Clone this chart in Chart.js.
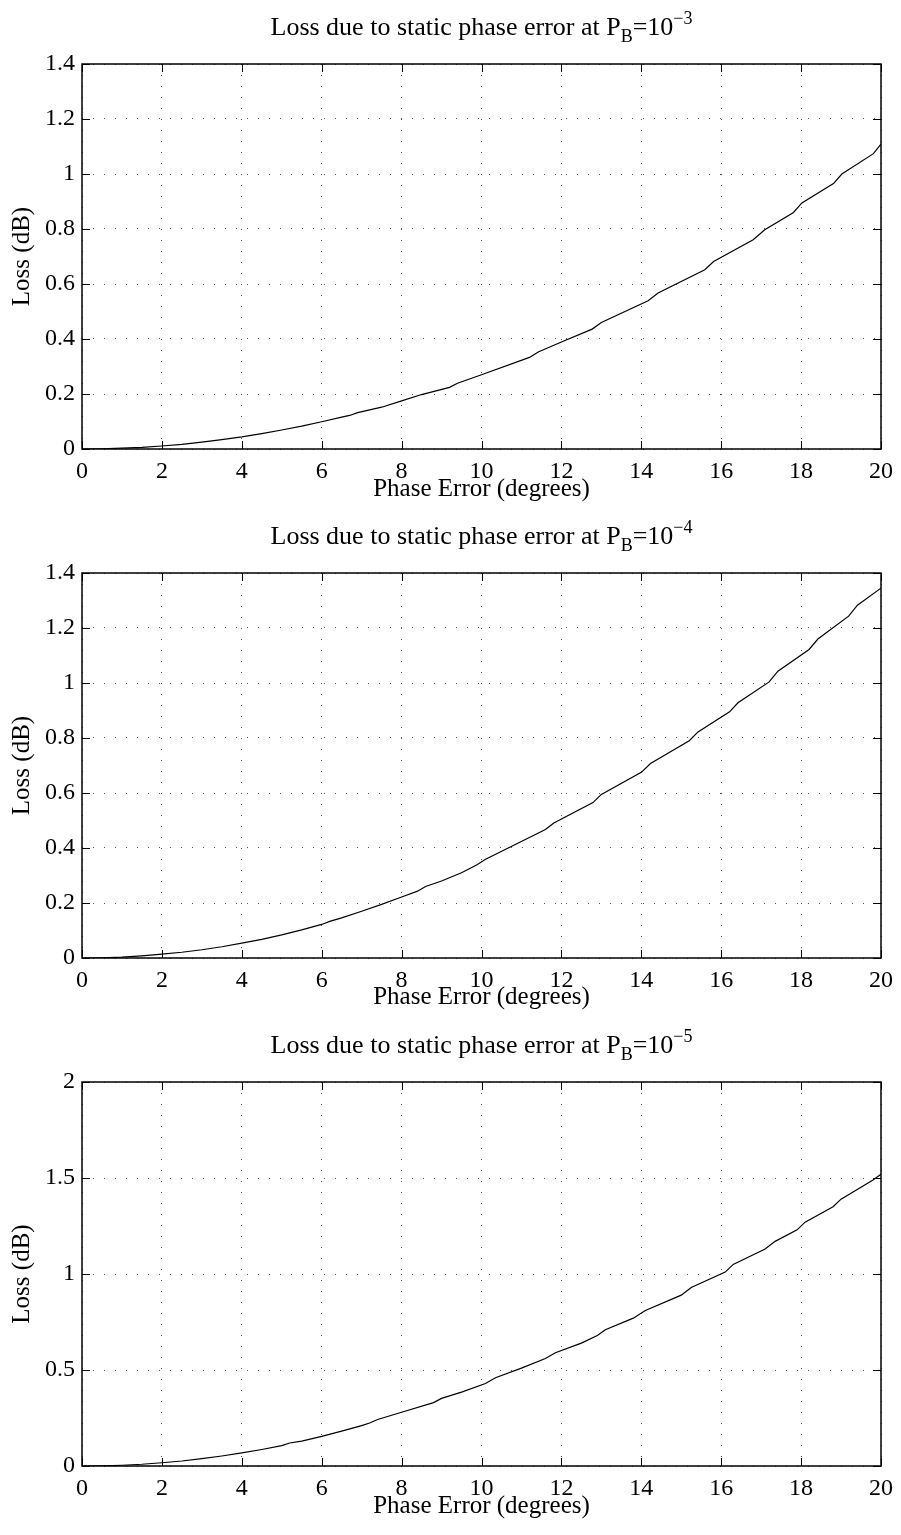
<!DOCTYPE html>
<html><head><meta charset="utf-8">
<script src="https://cdn.jsdelivr.net/npm/chart.js@4.4.1/dist/chart.umd.min.js"></script>
<style>
html,body{margin:0;padding:0;background:#fff;}
body{width:901px;height:1535px;position:relative;overflow:hidden;}
canvas{position:absolute;left:0;}
</style></head><body>
<canvas id="c1"></canvas><canvas id="c2"></canvas><canvas id="c3"></canvas>
<script>
// ---- data ----
const phase1 = [0,0.5,1,1.5,2,2.5,3,3.5,4,4.5,5,5.5,6,6.5,6.7,6.9,7.5,8,8.5,9.2,9.4,10,11.2,11.42,12,12.77,13.0,14.17,14.42,15.59,15.81,16.8,17.09,17.81,18.02,18.81,19.02,19.81,20];
const loss1  = [0,0.001,0.003,0.006,0.011,0.017,0.025,0.034,0.044,0.056,0.069,0.083,0.099,0.116,0.122,0.132,0.152,0.175,0.198,0.224,0.239,0.270,0.333,0.353,0.389,0.436,0.460,0.539,0.567,0.652,0.682,0.761,0.797,0.860,0.895,0.965,1.000,1.074,1.109];

const phase2 = [0,0.5,1,1.5,2,2.5,3,3.5,4,4.5,5,5.5,6,6.2,6.5,7,7.5,8,8.4,8.6,9,9.5,9.9,10.09,11.6,11.81,12.79,13.0,14.0,14.23,15.2,15.42,16.21,16.42,17.2,17.42,18.2,18.42,19.19,19.41,20];
const loss2  = [0,0.001,0.003,0.008,0.014,0.021,0.030,0.041,0.054,0.068,0.084,0.102,0.122,0.133,0.146,0.170,0.195,0.222,0.243,0.260,0.280,0.310,0.340,0.358,0.467,0.491,0.565,0.595,0.675,0.707,0.790,0.822,0.895,0.928,1.004,1.043,1.122,1.160,1.243,1.283,1.345];

const phase3 = [0,0.5,1,1.5,2,2.5,3,3.5,4,4.5,5,5.2,5.5,6,6.5,7,7.2,7.4,8,8.8,9.0,9.5,10.1,10.35,11,11.6,11.85,12.5,12.9,13.1,13.8,14.1,15,15.25,16.1,16.3,17.1,17.35,17.9,18.1,18.8,19.0,19.8,20];
const loss3  = [0,0.001,0.004,0.009,0.017,0.026,0.038,0.052,0.068,0.086,0.106,0.120,0.130,0.154,0.182,0.210,0.224,0.242,0.280,0.330,0.352,0.385,0.430,0.460,0.510,0.560,0.590,0.640,0.680,0.710,0.770,0.810,0.890,0.930,1.010,1.050,1.130,1.170,1.230,1.270,1.350,1.390,1.490,1.520];

const xTicks  = [0,2,4,6,8,10,12,14,16,18,20];
const yTicks1 = [0,0.2,0.4,0.6,0.8,1,1.2,1.4];
const yTicks2 = [0,0.2,0.4,0.6,0.8,1,1.2,1.4];
const yTicks3 = [0,0.5,1,1.5,2];
const exps = ['\u22123','\u22124','\u22125'];

const FONT = '"Liberation Serif","Times New Roman",Times,serif';

const framePlugin = {
  id: 'frame',
  afterDraw(chart, args, opts) {
    const {ctx, chartArea: a, scales: {x, y}} = chart;
    ctx.save();
    ctx.strokeStyle = '#000';
    ctx.lineWidth = 1;
    ctx.beginPath();
    x.ticks.forEach(t => {
      const p = Math.round(x.getPixelForValue(t.value)) + 0.5;
      ctx.moveTo(p, a.bottom); ctx.lineTo(p, a.bottom - 8);
      ctx.moveTo(p, a.top); ctx.lineTo(p, a.top + 8);
    });
    y.ticks.forEach(t => {
      const p = Math.round(y.getPixelForValue(t.value)) + 0.5;
      ctx.moveTo(a.left, p); ctx.lineTo(a.left + 8, p);
      ctx.moveTo(a.right, p); ctx.lineTo(a.right - 8, p);
    });
    ctx.stroke();
    ctx.lineWidth = 1.5;
    ctx.strokeRect(a.left, a.top, a.right - a.left, a.bottom - a.top);

    // title with subscript / superscript
    const main = 'Loss due to static phase error at P';
    const sub = 'B', eq = '=10', sup = opts.exp;
    const big = '26px ' + FONT, small = '18px ' + FONT;
    ctx.fillStyle = '#000';
    ctx.textBaseline = 'alphabetic';
    ctx.textAlign = 'left';
    ctx.font = big; const w1 = ctx.measureText(main).width, w3 = ctx.measureText(eq).width;
    ctx.font = small; const w2 = ctx.measureText(sub).width, w4 = ctx.measureText(sup).width;
    const total = w1 + w2 + w3 + w4;
    let xs = (a.left + a.right) / 2 - total / 2;
    const base = a.top - 29;
    ctx.font = big; ctx.fillText(main, xs, base); xs += w1;
    ctx.font = small; ctx.fillText(sub, xs, base + 7); xs += w2;
    ctx.font = big; ctx.fillText(eq, xs, base); xs += w3;
    ctx.font = small; ctx.fillText(sup, xs, base - 11);
    ctx.restore();
  }
};

const fmt = v => String(Math.round(v * 100) / 100);

function makeChart(id, top, H, plotTop, plotBottom, labelCenter, xs, ys, yTicks, ymax, exp) {
  const c = document.getElementById(id);
  c.width = 901; c.height = H; c.style.top = top + 'px';
  c.style.width = '901px'; c.style.height = H + 'px';
  const padBottom = H - 15 - labelCenter;
  new Chart(c, {
    type: 'line',
    data: {datasets: [{
      data: xs.map((v, i) => ({x: v, y: ys[i]})),
      borderColor: '#000', borderWidth: 1.2, pointRadius: 0, tension: 0, fill: false
    }]},
    options: {
      responsive: false, animation: false, devicePixelRatio: 1,
      layout: {padding: {top: plotTop, left: 0, right: 18, bottom: padBottom}},
      plugins: {legend: {display: false}, tooltip: {enabled: false}, title: {display: false}, frame: {exp}},
      scales: {
        x: {
          type: 'linear', min: 0, max: 20,
          afterBuildTicks: s => { s.ticks = xTicks.map(v => ({value: v})); },
          afterFit: s => { s.height = H - padBottom - plotBottom; },
          ticks: {autoSkip: false, maxRotation: 0, padding: 8, color: '#000', font: {family: FONT, size: 24}, callback: fmt},
          grid: {color: '#555', lineWidth: 1, drawTicks: false},
          border: {display: false, dash: [1, 10]},
          title: {display: true, text: 'Phase Error (degrees)', color: '#000', font: {family: FONT, size: 25}, padding: 0}
        },
        y: {
          type: 'linear', min: 0, max: ymax,
          afterBuildTicks: s => { s.ticks = yTicks.map(v => ({value: v})); },
          afterFit: s => { s.width = 82; },
          ticks: {autoSkip: false, padding: 7, color: '#000', font: {family: FONT, size: 24}, callback: fmt},
          grid: {color: '#555', lineWidth: 1, drawTicks: false},
          border: {display: false, dash: [1, 10]},
          title: {display: true, text: 'Loss (dB)', color: '#000', font: {family: FONT, size: 25}, padding: {top: 7, bottom: 0}}
        }
      }
    },
    plugins: [framePlugin]
  });
}

makeChart('c1', 0, 520, 64, 449, 489, phase1, loss1, yTicks1, 1.4, exps[0]);
makeChart('c2', 500, 520, 73, 458, 497, phase2, loss2, yTicks2, 1.4, exps[1]);
makeChart('c3', 1010, 525, 72, 456, 496, phase3, loss3, yTicks3, 2, exps[2]);
</script>
</body></html>
